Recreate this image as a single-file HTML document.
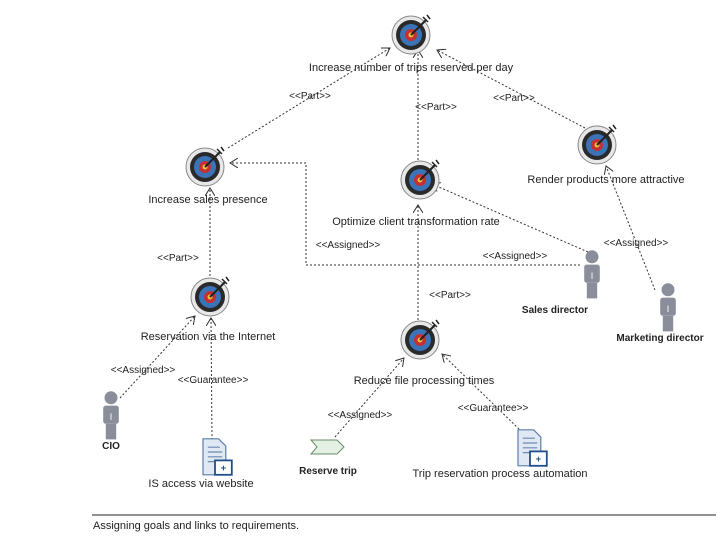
<!DOCTYPE html>
<html><head><meta charset="utf-8"><style>
body{margin:0;background:#fff;}
svg{display:block;font-family:"Liberation Sans",sans-serif;}
</style></head><body>
<svg width="720" height="540" viewBox="0 0 720 540">
<defs>
<g id="t">
<circle r="19" fill="#e8e8e8" stroke="#888"/>
<circle r="15" fill="#2a2a2a"/>
<circle r="11" fill="#3b73b8"/>
<circle r="6" fill="#c73030"/>
<circle r="2.5" fill="#f0c040"/>
<line x1="0" y1="0" x2="15" y2="-15" stroke="#222" stroke-width="2"/>
<path d="M12,-18 L17,-13 M16,-20 L19,-16" stroke="#222" stroke-width="1.5"/>
</g>
<g id="p" transform="scale(1.3)">
<circle cx="0" cy="-14" r="5" fill="#8a8d9a"/>
<rect x="-6" y="-8" width="12" height="14" rx="2" fill="#8a8d9a"/>
<rect x="-4" y="6" width="8" height="12" fill="#8a8d9a"/>
<text x="0" y="3" font-size="7" fill="#fff" text-anchor="middle">I</text>
</g>
<g id="d" transform="scale(1.2)">
<path d="M-10,-16 h13 l6,6 v24 h-19z" fill="#dfe8f3" stroke="#5b7fa8"/>
<path d="M-6,-9h10M-6,-5h12M-6,-1h12M-6,3h8" stroke="#6a8ab0"/>
<rect x="0" y="2" width="14" height="12" fill="#fff" stroke="#1f4f8a" stroke-width="1.5"/>
<text x="7" y="11" font-size="8" fill="#1f4f8a" text-anchor="middle" font-weight="bold">+</text>
</g>
<marker id="a" markerWidth="10" markerHeight="10" refX="8" refY="5" orient="auto" markerUnits="userSpaceOnUse"><path d="M0,0 L8,5 L0,10" fill="none" stroke="#333"/></marker>
</defs>
<g stroke="#333" stroke-dasharray="2,2" fill="none" marker-end="url(#a)">
<line x1="228" y1="148" x2="390" y2="48"/>
<line x1="418" y1="160" x2="418" y2="50"/>
<line x1="585" y1="128" x2="437" y2="50"/>
<line x1="210" y1="276" x2="210" y2="188"/>
<line x1="588" y1="252" x2="432" y2="184"/>
<polyline points="580,265 306,265 306,163 230,163"/>
<line x1="655" y1="290" x2="606" y2="166"/>
<line x1="418" y1="320" x2="418" y2="205"/>
<line x1="120" y1="398" x2="195" y2="316"/>
<line x1="212" y1="440" x2="211" y2="318"/>
<line x1="335" y1="437" x2="404" y2="358"/>
<line x1="522" y1="432" x2="442" y2="354"/>
</g>
<g font-size="10" fill="#222" text-anchor="middle">
<text x="310" y="99">&lt;&lt;Part&gt;&gt;</text>
<text x="436" y="110">&lt;&lt;Part&gt;&gt;</text>
<text x="514" y="101">&lt;&lt;Part&gt;&gt;</text>
<text x="178" y="261">&lt;&lt;Part&gt;&gt;</text>
<text x="348" y="248">&lt;&lt;Assigned&gt;&gt;</text>
<text x="515" y="259">&lt;&lt;Assigned&gt;&gt;</text>
<text x="636" y="246">&lt;&lt;Assigned&gt;&gt;</text>
<text x="450" y="298">&lt;&lt;Part&gt;&gt;</text>
<text x="143" y="373">&lt;&lt;Assigned&gt;&gt;</text>
<text x="213" y="383">&lt;&lt;Guarantee&gt;&gt;</text>
<text x="360" y="418">&lt;&lt;Assigned&gt;&gt;</text>
<text x="493" y="411">&lt;&lt;Guarantee&gt;&gt;</text>
</g>
<use href="#t" x="411" y="35"/>
<use href="#t" x="205" y="167"/>
<use href="#t" x="420" y="180"/>
<use href="#t" x="597" y="145"/>
<use href="#t" x="210" y="297"/>
<use href="#t" x="420" y="340"/>
<use href="#p" x="592" y="275"/>
<use href="#p" x="668" y="308"/>
<use href="#p" x="111" y="416"/>
<use href="#d" x="215" y="458"/>
<use href="#d" x="530" y="449"/>
<path d="M311,440 h26 l7,7 l-7,7 h-26 l6,-7z" fill="#e3f0e3" stroke="#6a8a6a"/>
<g font-size="11" fill="#222" text-anchor="middle">
<text x="411" y="71">Increase number of trips reserved per day</text>
<text x="208" y="203">Increase sales presence</text>
<text x="416" y="225">Optimize client transformation rate</text>
<text x="606" y="183">Render products more attractive</text>
<text x="208" y="340">Reservation via the Internet</text>
<text x="424" y="384">Reduce file processing times</text>
<text x="201" y="487">IS access via website</text>
<text x="500" y="477">Trip reservation process automation</text>
</g>
<g font-size="10" font-weight="bold" fill="#222" text-anchor="middle">
<text x="555" y="313">Sales director</text>
<text x="660" y="341">Marketing director</text>
<text x="111" y="449">CIO</text>
<text x="328" y="474">Reserve trip</text>
</g>
<line x1="92" y1="515" x2="716" y2="515" stroke="#222"/>
<text x="93" y="529" font-size="11" fill="#222">Assigning goals and links to requirements.</text>
</svg>
</body></html>
